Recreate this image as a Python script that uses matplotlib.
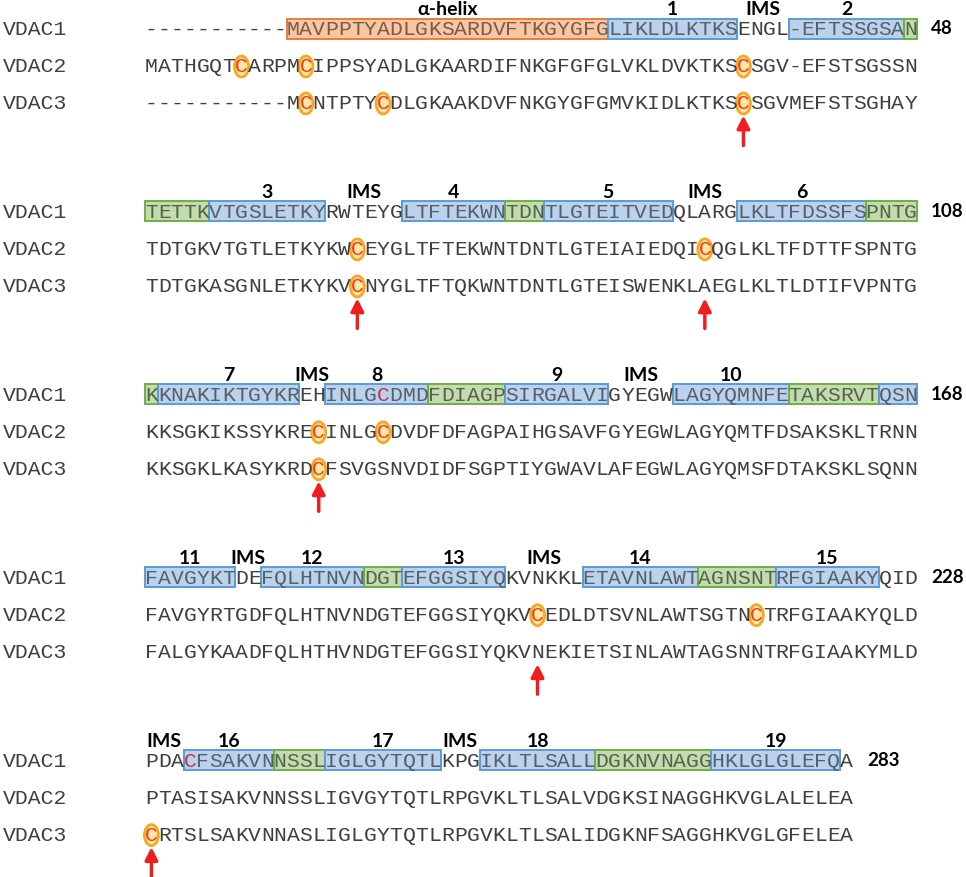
import matplotlib.pyplot as plt
from matplotlib.patches import Rectangle, Ellipse

# alignment, 5 blocks of up to 60 columns
names = ["VDAC1", "VDAC2", "VDAC3"]

vdac1 = [
    "-----------MAVPPTYADLGKSARDVFTKGYGFGLIKLDLKTKSENGL-EFTSSGSAN",
    "TETTKVTGSLETKYRWTEYGLTFTEKWNTDNTLGTEITVEDQLARGLKLTFDSSFSPNTG",
    "KKNAKIKTGYKREHINLGCDMDFDIAGPSIRGALVIGYEGWLAGYQMNFETAKSRVTQSN",
    "FAVGYKTDEFQLHTNVNDGTEFGGSIYQKVNKKLETAVNLAWTAGNSNTRFGIAAKYQID",
    "PDACFSAKVNNSSLIGLGYTQTLKPGIKLTLSALLDGKNVNAGGHKLGLGLEFQA",
]
vdac2 = [
    "MATHGQTCARPMCIPPSYADLGKAARDIFNKGFGFGLVKLDVKTKSCSGV-EFSTSGSSN",
    "TDTGKVTGTLETKYKWCEYGLTFTEKWNTDNTLGTEIAIEDQICQGLKLTFDTTFSPNTG",
    "KKSGKIKSSYKRECINLGCDVDFDFAGPAIHGSAVFGYEGWLAGYQMTFDSAKSKLTRNN",
    "FAVGYRTGDFQLHTNVNDGTEFGGSIYQKVCEDLDTSVNLAWTSGTNCTRFGIAAKYQLD",
    "PTASISAKVNNSSLIGVGYTQTLRPGVKLTLSALVDGKSINAGGHKVGLALELEA",
]
vdac3 = [
    "-----------MCNTPTYCDLGKAAKDVFNKGYGFGMVKIDLKTKSCSGVMEFSTSGHAY",
    "TDTGKASGNLETKYKVCNYGLTFTQKWNTDNTLGTEISWENKLAEGLKLTLDTIFVPNTG",
    "KKSGKLKASYKRDCFSVGSNVDIDFSGPTIYGWAVLAFEGWLAGYQMSFDTAKSKLSQNN",
    "FALGYKAADFQLHTHVNDGTEFGGSIYQKVNEKIETSINLAWTAGSNNTRFGIAAKYMLD",
    "CRTSLSAKVNNASLIGLGYTQTLRPGVKLTLSALIDGKNFSAGGHKVGLGFELEA",
]

# VDAC1 secondary structure per block: (first col, last col, kind, label)
segments = [
    [(12, 36, "helix", "α-helix"), (37, 46, "strand", "1"), (47, 50, None, "IMS"),
     (51, 59, "strand", "2"), (60, 60, "turn", "")],
    [(1, 5, "turn", ""), (6, 14, "strand", "3"), (15, 20, None, "IMS"),
     (21, 28, "strand", "4"), (29, 31, "turn", ""), (32, 41, "strand", "5"),
     (42, 46, None, "IMS"), (47, 56, "strand", "6"), (57, 60, "turn", "")],
    [(1, 1, "turn", ""), (2, 12, "strand", "7"), (13, 14, None, "IMS"),
     (15, 22, "strand", "8"), (23, 28, "turn", ""), (29, 36, "strand", "9"),
     (37, 41, None, "IMS"), (42, 50, "strand", "10"), (51, 57, "turn", ""),
     (58, 60, "strand", "")],
    [(1, 7, "strand", "11"), (8, 9, None, "IMS"), (10, 17, "strand", "12"),
     (18, 20, "turn", ""), (21, 28, "strand", "13"), (29, 34, None, "IMS"),
     (35, 43, "strand", "14"), (44, 49, "turn", ""), (50, 57, "strand", "15")],
    [(1, 3, None, "IMS"), (4, 10, "strand", "16"), (11, 14, "turn", ""),
     (15, 23, "strand", "17"), (24, 26, None, "IMS"), (27, 35, "strand", "18"),
     (36, 44, "turn", ""), (45, 54, "strand", "19")],
]

# red arrows under VDAC3: (block, column)
arrows = [(0, 47), (1, 17), (1, 44), (2, 14), (3, 31), (4, 1)]

# styles
box_style = {
    "helix":  {"fill": "#f8c6a3", "edge": "#ed7d31", "text": "#7a5a48"},
    "strand": {"fill": "#bad2ec", "edge": "#5b9bd5", "text": "#55606c"},
    "turn":   {"fill": "#c3dcae", "edge": "#70ad47", "text": "#56634c"},
}
text_col = "#3f3f3f"
mono = "Liberation Mono"
x0, cw = 145.0, 12.87
y0, row_h, block_h = 28.5, 37.0, 182.9

fig = plt.figure(figsize=(9.66, 8.77), dpi=100)
ax = fig.add_axes([0, 0, 1, 1])
ax.set_xlim(0, 966)
ax.set_ylim(877, 0)
ax.axis("off")


def colx(c):
    return x0 + (c - 0.5) * cw


count = 0
for b in range(len(vdac1)):
    yb = y0 + b * block_h
    seqs = [vdac1[b], vdac2[b], vdac3[b]]

    # which box kind each VDAC1 column falls in
    kind_at = {}
    for c1, c2, kind, lab in segments[b]:
        for c in range(c1, c2 + 1):
            kind_at[c] = kind

    for r, (nm, s) in enumerate(zip(names, seqs)):
        y = yb + r * row_h
        ax.text(3, y + 1, nm, family=mono, fontsize=15.4, color=text_col,
                ha="left", va="center")
        for i, ch in enumerate(s, start=1):
            col = text_col
            if r == 0 and kind_at.get(i):
                col = box_style[kind_at[i]]["text"]
            if ch == "C" and r == 0:
                col = "#c8334f"
            elif ch == "C":
                col = "#ee3b24"
                ax.add_patch(Ellipse((colx(i), y + 1), 14, 21, facecolor="#fde7a6",
                                     edgecolor="#f7a823", lw=2.0, zorder=1))
            ax.text(colx(i), y + 1, ch, family=mono, fontsize=15.4, color=col,
                    ha="center", va="center", zorder=3)

    # boxes and labels on VDAC1
    for c1, c2, kind, lab in segments[b]:
        left = x0 + (c1 - 1) * cw
        w = (c2 - c1 + 1) * cw
        if kind is not None:
            st = box_style[kind]
            ax.add_patch(Rectangle((left, yb - 10), w, 20, facecolor=st["fill"],
                                   edgecolor=st["edge"], lw=1.4, zorder=2))
        if lab:
            ax.text(left + w / 2, yb - 19, lab, family="Lato", weight="bold",
                    fontsize=14, color="black", ha="center", va="center")

    # residue number at the end of the VDAC1 line
    count += len(vdac1[b]) - vdac1[b].count("-")
    ax.text(x0 + len(vdac1[b]) * cw + 14, yb, str(count), family="Lato",
            weight="bold", fontsize=13.5, color="black", ha="left", va="center")

for b, c in arrows:
    y3 = y0 + b * block_h + 2 * row_h
    ax.annotate("", xy=(colx(c), y3 + 13), xytext=(colx(c), y3 + 43),
                arrowprops=dict(arrowstyle="-|>,head_length=0.75,head_width=0.38",
                                color="#f01e1e", lw=2.5, shrinkA=0, shrinkB=0))

fig.savefig("out.png", dpi=100)
